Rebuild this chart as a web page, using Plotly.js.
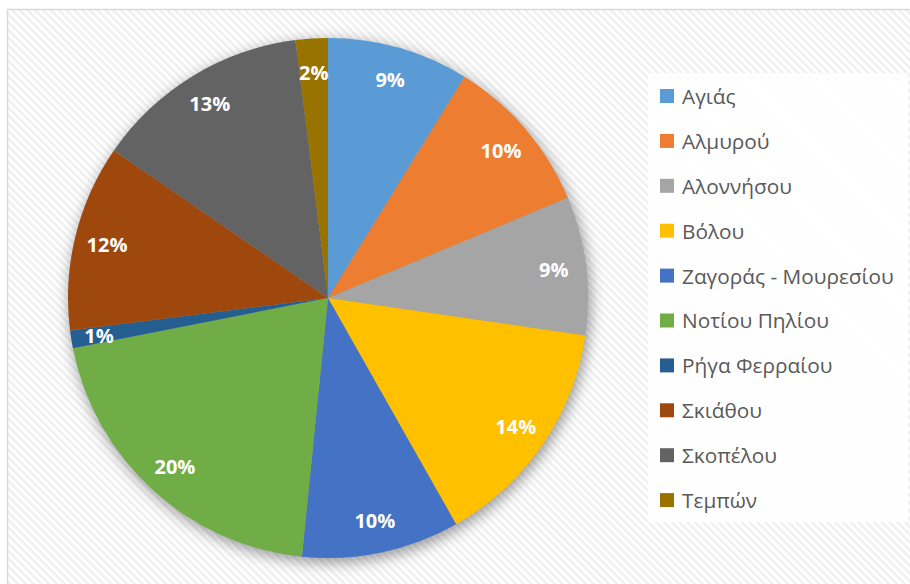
<!DOCTYPE html>
<html>
<head>
<meta charset="utf-8">
<script src="https://cdn.plot.ly/plotly-3.0.1.min.js"></script>
<style>html,body{margin:0;padding:0;background:#fff;}#chart{width:910px;height:584px;}</style>
</head>
<body>
<div id="chart"></div>
<script>
const categories = ['Αγιάς', 'Αλμυρού', 'Αλοννήσου', 'Βόλου', 'Ζαγοράς - Μουρεσίου', 'Νοτίου Πηλίου', 'Ρήγα Φερραίου', 'Σκιάθου', 'Σκοπέλου', 'Τεμπών'];
const values = [8.8, 9.9, 8.6, 14.5, 9.8, 20.3, 1.1, 11.6, 13.4, 2.0];
const colors = ['#5B9BD5', '#ED7D31', '#A5A5A5', '#FFC000', '#4472C4', '#70AD47', '#255E91', '#9E480E', '#636363', '#997300'];

const W = 910, H = 584;
const cx = 328, cy = 298, R = 260, Rsmall = 240;
function dom(r) {
  return { x: [(cx - r) / W, (cx + r) / W], y: [(H - cy - r) / H, (H - cy + r) / H] };
}
const total = values.reduce((a, b) => a + b, 0);
const pctText = values.map(v => Math.round(v / total * 100) + '%');
const isSmall = values.map(v => v / total < 0.03);
const clear = values.map(() => 'rgba(0,0,0,0)');
const labelFont = { family: 'Open Sans', size: 20, color: '#ffffff', weight: 'bold' };

const traces = [
  {
    type: 'pie', labels: categories, values: values, sort: false, direction: 'clockwise', rotation: 0,
    marker: { colors: colors, line: { width: 0 } }, textinfo: 'none', domain: dom(R),
    showlegend: false, hoverinfo: 'label+percent'
  },
  {
    type: 'pie', labels: categories, values: values, sort: false, direction: 'clockwise', rotation: 0,
    hole: 0.75, marker: { colors: clear, line: { width: 0 } },
    text: pctText.map((t, i) => isSmall[i] ? '' : t), textinfo: 'text', textposition: 'inside',
    insidetextorientation: 'horizontal', insidetextfont: labelFont,
    domain: dom(R), showlegend: false, hoverinfo: 'skip'
  },
  {
    type: 'pie', labels: categories, values: values, sort: false, direction: 'clockwise', rotation: 0,
    hole: 0.75, marker: { colors: clear, line: { width: 0 } },
    text: pctText.map((t, i) => isSmall[i] ? t : ''), textinfo: 'text', textposition: 'inside',
    insidetextorientation: 'horizontal', insidetextfont: labelFont,
    domain: dom(Rsmall), showlegend: false, hoverinfo: 'skip'
  }
];

// background: diagonal stripes, chart border and soft pie shadow
const svg = `<svg xmlns="http://www.w3.org/2000/svg" width="${W}" height="${H}" viewBox="0 0 ${W} ${H}">
<defs>
<pattern id="p" width="5.5" height="5.5" patternUnits="userSpaceOnUse" patternTransform="rotate(-45)">
<rect width="5.5" height="5.5" fill="#ffffff"/><rect width="2.6" height="5.5" fill="#f0f0f0"/>
</pattern>
<filter id="b" x="-20%" y="-20%" width="140%" height="140%"><feGaussianBlur stdDeviation="7"/></filter>
</defs>
<rect width="${W}" height="${H}" fill="#ffffff"/>
<rect x="7.5" y="9.5" width="${W}" height="${H}" fill="url(#p)" stroke="#d9d9d9" stroke-width="1.5"/>
<circle cx="${cx + 2}" cy="${cy + 4}" r="${R + 1}" fill="#000" fill-opacity="0.38" filter="url(#b)"/>
</svg>`;
const bgSrc = 'data:image/svg+xml;charset=utf-8,' + encodeURIComponent(svg);

// manual legend
const legTop = 96, legStep = 44.9, sq = 14, sqX = 660, txtX = 680;
const shapes = [{
  type: 'rect', xref: 'paper', yref: 'paper', layer: 'below',
  x0: 648 / W, x1: 908 / W, y0: 1 - 522 / H, y1: 1 - 73 / H,
  fillcolor: 'rgba(255,255,255,0.9)', line: { width: 0 }
}];
const annotations = [];
categories.forEach((c, i) => {
  const yc = legTop + i * legStep;
  shapes.push({
    type: 'rect', xref: 'paper', yref: 'paper',
    x0: sqX / W, x1: (sqX + sq) / W, y0: 1 - (yc + sq / 2) / H, y1: 1 - (yc - sq / 2) / H,
    fillcolor: colors[i], line: { width: 0 }
  });
  annotations.push({
    text: c, xref: 'paper', yref: 'paper', x: txtX / W, y: 1 - yc / H,
    xanchor: 'left', yanchor: 'middle', showarrow: false,
    font: { family: 'Open Sans', size: 20.8, color: '#595959' }
  });
});

const layout = {
  width: W, height: H,
  margin: { l: 0, r: 0, t: 0, b: 0 },
  paper_bgcolor: '#ffffff',
  showlegend: false,
  uniformtext: { mode: 'show', minsize: 20 },
  images: [{
    source: bgSrc, xref: 'paper', yref: 'paper', x: 0, y: 1, sizex: 1, sizey: 1,
    xanchor: 'left', yanchor: 'top', sizing: 'stretch', layer: 'below'
  }],
  shapes: shapes,
  annotations: annotations
};

Plotly.newPlot('chart', traces, layout, { displayModeBar: false, staticPlot: true });
</script>
</body>
</html>
